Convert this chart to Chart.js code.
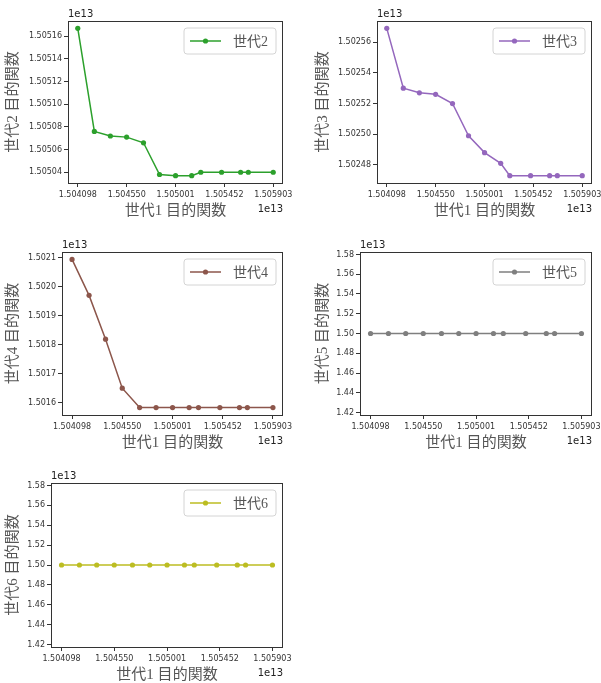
<!DOCTYPE html>
<html><head><meta charset="utf-8">
<script src="https://cdn.jsdelivr.net/npm/chart.js@4.4.1/dist/chart.umd.min.js"></script>
<style>
html,body{margin:0;padding:0;background:#fff;width:601px;height:683px;overflow:hidden;}
canvas{position:absolute;display:block;}
</style></head><body>
<canvas id="c1" width="300" height="230" style="left:0;top:0"></canvas>
<canvas id="c2" width="301" height="230" style="left:300px;top:0"></canvas>
<canvas id="c3" width="300" height="230" style="left:0;top:230px"></canvas>
<canvas id="c4" width="301" height="230" style="left:300px;top:230px"></canvas>
<canvas id="c5" width="300" height="223" style="left:0;top:460px"></canvas>
<script>
// ---- data (values in units of 1e13) ----
const xValues = [1.504098, 1.504251, 1.504399, 1.504549, 1.504705, 1.504853, 1.505001, 1.505150, 1.505234, 1.505426, 1.505602, 1.505673, 1.505903];
const gen2 = [1.505167, 1.505076, 1.505072, 1.505071, 1.505066, 1.505038, 1.505037, 1.505037, 1.505040, 1.505040, 1.505040, 1.505040, 1.505040];
const gen3 = [1.502569, 1.502530, 1.502527, 1.502526, 1.502520, 1.502499, 1.502488, 1.502481, 1.502473, 1.502473, 1.502473, 1.502473, 1.502473];
const gen4 = [1.502095, 1.501971, 1.501820, 1.501651, 1.501584, 1.501584, 1.501584, 1.501584, 1.501584, 1.501584, 1.501584, 1.501584, 1.501584];
const gen5 = [1.50, 1.50, 1.50, 1.50, 1.50, 1.50, 1.50, 1.50, 1.50, 1.50, 1.50, 1.50, 1.50];
const gen6 = [1.50, 1.50, 1.50, 1.50, 1.50, 1.50, 1.50, 1.50, 1.50, 1.50, 1.50, 1.50, 1.50];
const xTicks = [1.504098, 1.504550, 1.505001, 1.505452, 1.505903];
const yTicks2 = [1.50504, 1.50506, 1.50508, 1.50510, 1.50512, 1.50514, 1.50516];
const yTicks3 = [1.50248, 1.50250, 1.50252, 1.50254, 1.50256];
const yTicks4 = [1.5016, 1.5017, 1.5018, 1.5019, 1.5020, 1.5021];
const yTicks5 = [1.42, 1.44, 1.46, 1.48, 1.50, 1.52, 1.54, 1.56, 1.58];
const yTicks6 = [1.42, 1.44, 1.46, 1.48, 1.50, 1.52, 1.54, 1.56, 1.58];
const seriesNames = ['世代2', '世代3', '世代4', '世代5', '世代6'];
const xTitle = '世代1 目的関数';
const yTitleSuffix = ' 目的関数';
const offsetText = '1e13';

// ---- styling / layout ----
const CJK = "'Liberation Serif','Noto Sans CJK JP'";
const TITLE_SIZE = 15;
const panels = [
  {id:'c1', name:seriesNames[0], data:gen2, color:'#2ca02c', yt:yTicks2, dec:5, L:68, R:283, T:21, B:183, padL:4.5},
  {id:'c2', name:seriesNames[1], data:gen3, color:'#9467bd', yt:yTicks3, dec:5, L:77, R:292, T:21, B:183, padL:14.5},
  {id:'c3', name:seriesNames[2], data:gen4, color:'#8c564b', yt:yTicks4, dec:4, L:62, R:283, T:22, B:185, padL:4.5},
  {id:'c4', name:seriesNames[3], data:gen5, color:'#7f7f7f', yt:yTicks5, dec:2, L:60, R:292, T:22, B:185, padL:14.5},
  {id:'c5', name:seriesNames[4], data:gen6, color:'#bcbd22', yt:yTicks6, dec:2, L:51, R:283, T:23, B:187, padL:4.5},
];
const X_AXIS_H = 37;

function limits(arr){
  let lo = Math.min(...arr), hi = Math.max(...arr);
  if (lo === hi){ lo = lo*0.95; hi = hi*1.05; }
  const m = (hi-lo)*0.05;
  return [lo-m, hi+m];
}

const framePlugin = {
  id:'frame',
  afterDatasetsDraw(chart){
    const a = chart.chartArea, ctx = chart.ctx;
    ctx.save();
    ctx.strokeStyle = '#333'; ctx.lineWidth = 1;
    ctx.strokeRect(Math.round(a.left)+0.5, Math.round(a.top)+0.5, Math.round(a.right-a.left)-1, Math.round(a.bottom-a.top));
    ctx.restore();
  },
  afterDraw(chart){
    const a = chart.chartArea, ctx = chart.ctx;
    const ds = chart.data.datasets[0];
    ctx.save();
    // offset texts
    ctx.fillStyle = '#222';
    ctx.font = "10px 'DejaVu Sans'";
    ctx.textBaseline = 'alphabetic';
    ctx.textAlign = 'left';
    ctx.fillText(offsetText, a.left, a.top - 4);
    ctx.textAlign = 'right';
    ctx.fillText(offsetText, a.right, a.bottom + 29);
    // legend
    ctx.font = "14px " + CJK;
    const tw = ctx.measureText(ds.label).width;
    const w = 6 + 31 + 12 + tw + 8, h = 26;
    const x = a.right - 7 - w, y = a.top + 7;
    const r = 3;
    ctx.beginPath();
    ctx.moveTo(x+r, y); ctx.lineTo(x+w-r, y); ctx.quadraticCurveTo(x+w, y, x+w, y+r);
    ctx.lineTo(x+w, y+h-r); ctx.quadraticCurveTo(x+w, y+h, x+w-r, y+h);
    ctx.lineTo(x+r, y+h); ctx.quadraticCurveTo(x, y+h, x, y+h-r);
    ctx.lineTo(x, y+r); ctx.quadraticCurveTo(x, y, x+r, y);
    ctx.closePath();
    ctx.fillStyle = 'rgba(255,255,255,0.85)'; ctx.fill();
    ctx.strokeStyle = '#d4d4d4'; ctx.lineWidth = 1; ctx.stroke();
    const cy = y + h/2;
    ctx.strokeStyle = ds.borderColor; ctx.lineWidth = 1.5;
    ctx.beginPath(); ctx.moveTo(x+6, cy); ctx.lineTo(x+37, cy); ctx.stroke();
    ctx.fillStyle = ds.borderColor;
    ctx.beginPath(); ctx.arc(x+21.5, cy, 2.6, 0, Math.PI*2); ctx.fill();
    ctx.fillStyle = '#555'; ctx.textAlign = 'left'; ctx.textBaseline = 'middle';
    ctx.fillText(ds.label, x + 49, cy + 1);
    ctx.restore();
  }
};

const [xmin, xmax] = limits(xValues);

panels.forEach(p => {
  const cv = document.getElementById(p.id);
  const W = cv.width, H = cv.height;
  const [ymin, ymax] = limits(p.data);
  new Chart(cv, {
    type:'line',
    data:{ datasets:[{
      label:p.name,
      data:xValues.map((x,i)=>({x:x, y:p.data[i]})),
      borderColor:p.color, backgroundColor:p.color,
      borderWidth:1.5, pointRadius:2.6, pointHoverRadius:2.6, pointBorderWidth:0,
      pointBackgroundColor:p.color, tension:0, fill:false
    }]},
    options:{
      responsive:false, animation:false, events:[],
      layout:{ padding:{ left:p.padL, right:W-p.R, top:p.T, bottom:H-p.B-X_AXIS_H } },
      plugins:{ legend:{display:false}, tooltip:{enabled:false} },
      scales:{
        x:{
          type:'linear', min:xmin, max:xmax, bounds:'data',
          afterBuildTicks: s => { s.ticks = xTicks.map(v => ({value:v})); },
          afterFit: s => { s.height = X_AXIS_H; s.paddingLeft = 0; s.paddingRight = 0; },
          ticks:{ autoSkip:false, maxRotation:0, minRotation:0, padding:3,
            font:{family:'DejaVu Sans', size:8}, color:'#333',
            callback: v => Number(v).toFixed(6) },
          grid:{ drawOnChartArea:false, drawTicks:true, tickLength:4, color:'#333', lineWidth:1 },
          border:{ display:false },
          title:{ display:true, text:xTitle, color:'#555',
            font:{family:CJK, size:TITLE_SIZE, lineHeight:1.2}, padding:{top:0,bottom:0} }
        },
        y:{
          type:'linear', min:ymin, max:ymax, bounds:'data',
          afterBuildTicks: s => { s.ticks = p.yt.map(v => ({value:v})); },
          afterFit: s => { s.width = p.L - p.padL; s.paddingTop = 0; s.paddingBottom = 0; },
          ticks:{ autoSkip:false, padding:2,
            font:{family:'DejaVu Sans', size:8}, color:'#333',
            callback: v => Number(v).toFixed(p.dec) },
          grid:{ drawOnChartArea:false, drawTicks:true, tickLength:4, color:'#333', lineWidth:1 },
          border:{ display:false },
          title:{ display:true, text:p.name + yTitleSuffix, color:'#555',
            font:{family:CJK, size:TITLE_SIZE, lineHeight:1.2}, padding:{top:0,bottom:0} }
        }
      }
    },
    plugins:[framePlugin]
  });
});
</script>
</body></html>
